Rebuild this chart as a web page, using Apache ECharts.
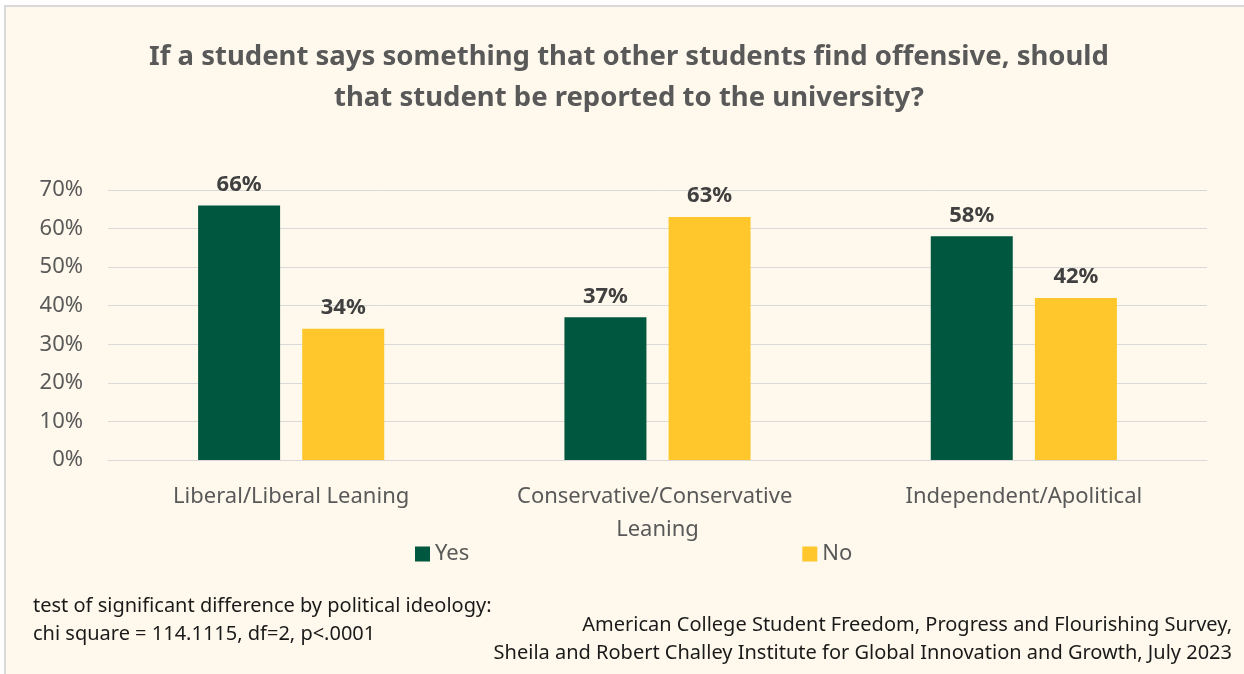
<!DOCTYPE html>
<html>
<head>
<meta charset="utf-8">
<script src="https://cdn.jsdelivr.net/npm/echarts@6/dist/echarts.min.js"></script>
<style>
  html, body { margin: 0; padding: 0; background: #ffffff; }
  #chart { width: 1244px; height: 674px; }
</style>
</head>
<body>
<div id="chart"></div>
<script>
// Survey responses by political ideology
const categories = ['Liberal/Liberal Leaning', 'Conservative/Conservative Leaning', 'Independent/Apolitical'];
const yesValues = [66, 37, 58];
const noValues = [34, 63, 42];
const seriesNames = ['Yes', 'No'];
const titleLines = [
  'If a student says something that other students find offensive, should',
  'that student be reported to the university?'
];
const noteLines = [
  'test of significant difference by political ideology:',
  'chi square = 114.1115, df=2, p<.0001'
];
const sourceLines = [
  'American College Student Freedom, Progress and Flourishing Survey,',
  'Sheila and Robert Challey Institute for Global Innovation and Growth, July 2023'
];

const FONT = '"Noto Sans", "Open Sans", sans-serif';
const GREEN = '#00573F';
const GOLD = '#FFC72C';

const chart = echarts.init(document.getElementById('chart'), null, { renderer: 'canvas' });

const labelStyle = {
  show: true,
  position: 'top',
  distance: 10,
  formatter: p => p.value + '%',
  fontFamily: FONT,
  fontWeight: 'bold',
  fontSize: 22,
  color: '#404040'
};

chart.setOption({
  backgroundColor: '#ffffff',
  animation: false,
  graphic: [
    {
      type: 'rect',
      z: -10,
      silent: true,
      shape: { x: 5, y: 6, width: 1245, height: 670 },
      style: { fill: '#FEF9EC', stroke: '#D9D9D9', lineWidth: 2 }
    },
    {
      type: 'text',
      x: 629,
      y: 37,
      style: {
        text: titleLines.join('\n'),
        fontFamily: FONT,
        fontWeight: 'bold',
        fontSize: 27.5,
        lineHeight: 41,
        fill: '#595959',
        align: 'center'
      }
    },
    {
      type: 'text',
      left: 33,
      top: 592,
      style: {
        text: noteLines.join('\n'),
        fontFamily: FONT,
        fontSize: 20,
        lineHeight: 28,
        fill: '#1a1a1a'
      }
    },
    {
      type: 'text',
      right: 12,
      top: 611,
      style: {
        text: sourceLines.join('\n'),
        fontFamily: FONT,
        fontSize: 20,
        lineHeight: 28,
        fill: '#1a1a1a',
        textAlign: 'right'
      }
    }
  ],
  legend: {
    data: seriesNames,
    left: 410,
    top: 538,
    itemWidth: 15,
    itemHeight: 15,
    itemGap: 333,
    icon: 'rect',
    textStyle: { fontFamily: FONT, fontSize: 22, color: '#595959' }
  },
  grid: { left: 108, right: 37, top: 190, bottom: 214, containLabel: false },
  xAxis: {
    type: 'category',
    data: categories,
    axisLine: { lineStyle: { color: '#D9D9D9', width: 1 } },
    axisTick: { show: false },
    axisLabel: {
      fontFamily: FONT,
      fontSize: 22,
      color: '#595959',
      margin: 20,
      lineHeight: 33,
      width: 320,
      overflow: 'break',
      interval: 0
    }
  },
  yAxis: {
    type: 'value',
    min: 0,
    max: 70,
    interval: 10,
    axisLine: { show: false },
    axisTick: { show: false },
    splitLine: { lineStyle: { color: '#D9D9D9', width: 1 } },
    axisLabel: {
      formatter: '{value}%',
      fontFamily: FONT,
      fontSize: 22,
      color: '#595959',
      margin: 25
    }
  },
  series: [
    {
      name: seriesNames[0],
      type: 'bar',
      data: yesValues,
      barWidth: 82,
      barGap: '27%',
      itemStyle: { color: GREEN },
      label: labelStyle
    },
    {
      name: seriesNames[1],
      type: 'bar',
      data: noValues,
      barWidth: 82,
      barGap: '27%',
      itemStyle: { color: GOLD },
      label: labelStyle
    }
  ]
});
</script>
</body>
</html>
